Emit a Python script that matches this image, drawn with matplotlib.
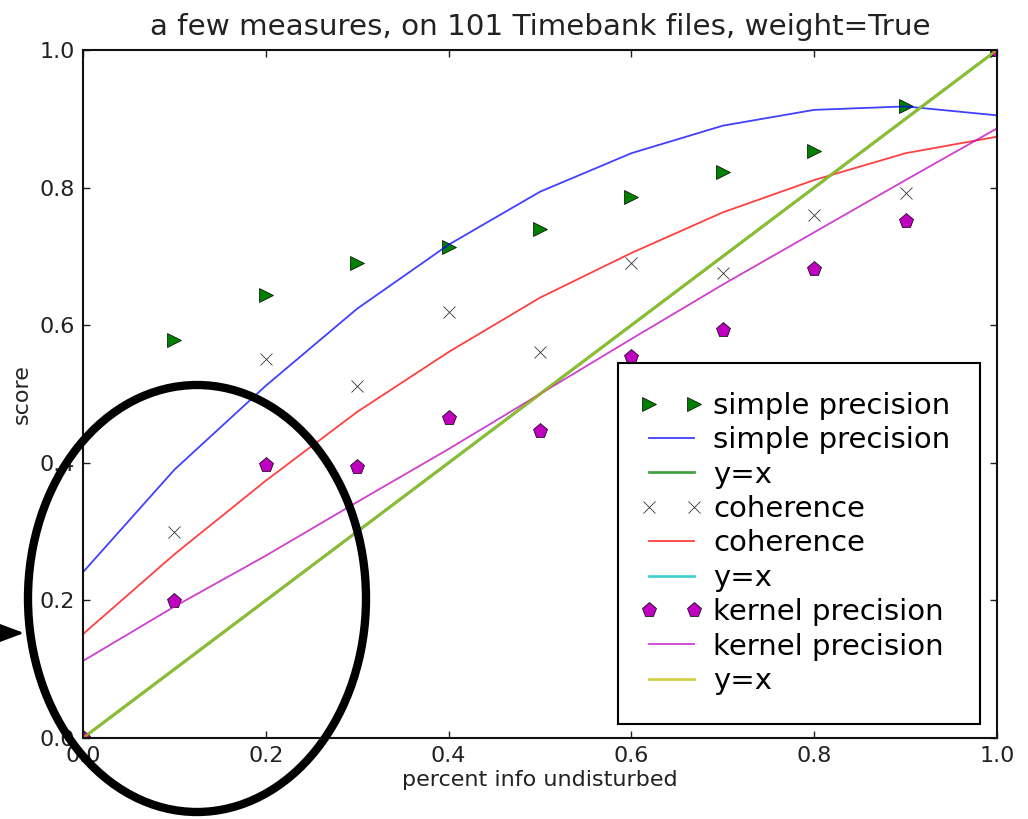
import matplotlib
matplotlib.use("Agg")
import matplotlib.pyplot as plt
from matplotlib.patches import Ellipse
from matplotlib.lines import Line2D
from matplotlib.legend_handler import HandlerLine2D
import numpy as np

x = [0.0, 0.1, 0.2, 0.3, 0.4, 0.5, 0.6, 0.7, 0.8, 0.9, 1.0]

simple_pts = [0.0, 0.578, 0.644, 0.690, 0.714, 0.740, 0.786, 0.823, 0.853, 0.919, 1.0]
simple_fit = [0.241, 0.390, 0.512, 0.624, 0.717, 0.794, 0.850, 0.890, 0.913, 0.918, 0.905]
coh_pts = [0.0, 0.299, 0.551, 0.512, 0.619, 0.561, 0.690, 0.676, 0.760, 0.792, 1.0]
coh_fit = [0.151, 0.267, 0.374, 0.474, 0.561, 0.640, 0.705, 0.764, 0.811, 0.850, 0.874]
kern_pts = [0.0, 0.199, 0.397, 0.394, 0.465, 0.446, 0.554, 0.593, 0.682, 0.751, 1.0]
kern_fit = [0.112, 0.191, 0.265, 0.343, 0.420, 0.500, 0.580, 0.659, 0.735, 0.811, 0.886]
identity = x

xticks = [0.0, 0.2, 0.4, 0.6, 0.8, 1.0]
yticks = [0.0, 0.2, 0.4, 0.6, 0.8, 1.0]

fig = plt.figure(figsize=(10.28, 8.19), dpi=100)
ax = fig.add_axes([83/1028, 1-738/819, (997-83)/1028, (738-50)/819])

A = 0.75
lw = 1.3
ax.plot(x, simple_pts, linestyle='none', marker='>', color='green', markeredgecolor='black',
        markeredgewidth=0.5, markersize=10, label='simple precision')
ax.plot(x, simple_fit, '-', color='blue', alpha=A, lw=lw, label='simple precision')
ax.plot(x, identity, '-', color='green', alpha=A, lw=lw*1.5, label='y=x')
ax.plot(x, coh_pts, linestyle='none', marker='x', color='black', markeredgewidth=0.6,
        markersize=9, alpha=0.8, label='coherence')
ax.plot(x, coh_fit, '-', color='red', alpha=A, lw=lw, label='coherence')
ax.plot(x, identity, '-', color='c', alpha=A, lw=lw*1.5, label='y=x')
ax.plot(x, kern_pts, linestyle='none', marker='p', color='m', markeredgecolor='black',
        markeredgewidth=0.5, markersize=11, label='kernel precision')
ax.plot(x, kern_fit, '-', color='m', alpha=A, lw=lw, label='kernel precision')
ax.plot(x, identity, '-', color='y', alpha=A, lw=lw*1.5, label='y=x')

ax.set_xlim(0, 1)
ax.set_ylim(0, 1)
ax.set_xticks(xticks)
ax.set_yticks(yticks)
ax.set_xticklabels([f"{t:.1f}" for t in xticks])
ax.set_yticklabels([f"{t:.1f}" for t in yticks])
ax.tick_params(direction='in', length=5, width=1, top=True, right=True,
               labelsize=16, pad=6, colors='#222222', labelcolor='#222222')
for s in ax.spines.values():
    s.set_linewidth(1.5)
    s.set_color('#111111')

ax.set_xlabel('percent info undisturbed', fontsize=16, labelpad=3, color='#222222')
ax.set_ylabel('score', fontsize=16, labelpad=5, color='#222222')
ax.set_title('a few measures, on 101 Timebank files, weight=True', fontsize=21.2, pad=11,
             color='#222222')

leg = ax.legend(loc='lower right', bbox_to_anchor=(0.981, 0.020), borderaxespad=0,
                fontsize=21, numpoints=2, fancybox=False, framealpha=1,
                edgecolor='black', handlelength=1.65, handletextpad=0.6,
                labelspacing=0.22, borderpad=1.0,
                handler_map={Line2D: HandlerLine2D(marker_pad=0.05)})
leg.get_frame().set_linewidth(1.5)

# annotation overlay
ell = Ellipse((197/1028, 1-598.5/819), 338/1028, 427/819, transform=fig.transFigure,
              fill=False, edgecolor='black', lw=6, clip_on=False)
fig.add_artist(ell)
ax.annotate('', xy=(24/1028, 1-633/819), xytext=(-30/1028, 1-633/819),
            xycoords='figure fraction', textcoords='figure fraction',
            arrowprops=dict(arrowstyle='-|>,head_length=1.2,head_width=0.45', color='black',
                            lw=2, mutation_scale=20, shrinkA=0, shrinkB=0),
            annotation_clip=False)

fig.savefig('out.png', dpi=100)
